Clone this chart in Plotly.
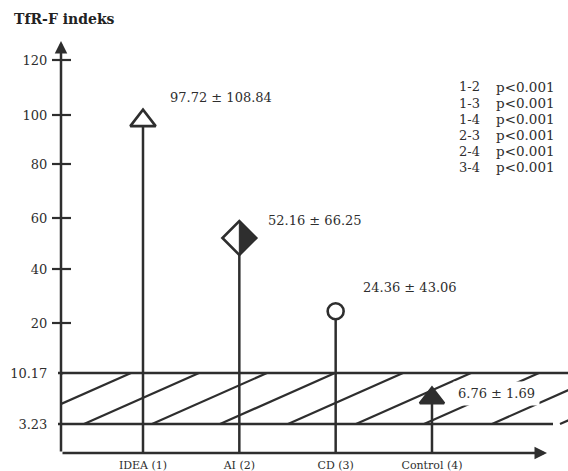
import numpy as np
import plotly.graph_objects as go

# ---------------- data ----------------
categories = ["IDEA (1)", "AI (2)", "CD (3)", "Control (4)"]
means = [97.72, 52.16, 24.36, 6.76]
sds = [108.84, 66.25, 43.06, 1.69]
ref_low = 3.23
ref_high = 10.17
ytick_values = [3.23, 10.17, 20, 40, 60, 80, 100, 120]
ytick_labels = ["3.23", "10.17", "20", "40", "60", "80", "100", "120"]
comparisons = ["1-2", "1-3", "1-4", "2-3", "2-4", "3-4"]
p_values = ["p<0.001", "p<0.001", "p<0.001", "p<0.001", "p<0.001", "p<0.001"]
y_title = "TfR-F indeks"

# ---------------- broken (non-linear) axis scale as drawn in the original ----------------
scale_values = [0, 3.23, 10.17, 20, 40, 60, 80, 100, 120]
scale_pos = [0, 29, 80, 130, 184, 235, 289, 338, 393]


def T(v):
    return np.interp(v, scale_values, scale_pos)


# ---------------- style ----------------
INK = "#2e2e2e"
FONT = "DejaVu Serif"
W, H = 568, 471
ML, MR, MT, MB = 61, 0, 40, 18
PX_PER_CAT = 96.33
X0_PIX = 143
xpos = list(range(len(categories)))


def xd(pix):
    return (pix - X0_PIX) / PX_PER_CAT


xr = [xd(ML), xd(W - MR)]
yr = [0, H - MT - MB]

symbols = ["triangle-up", "diamond", "circle", "triangle-up"]
fills = ["white", "white", "white", INK]
sizes = [22, 26, 16, 21]
label_dx = [22, 24, 22, 21]
label_dy = [23, 17, 24, 5]

fig = go.Figure()

# stems
sx, sy = [], []
for i, m in enumerate(means):
    sx += [xpos[i], xpos[i], None]
    sy += [0, T(m), None]
fig.add_trace(go.Scatter(x=sx, y=sy, mode="lines", line=dict(color=INK, width=2.5),
                         hoverinfo="skip", showlegend=False))

# markers
fig.add_trace(go.Scatter(
    x=xpos, y=[T(m) for m in means], mode="markers",
    marker=dict(symbol=symbols, size=sizes, color=fills, opacity=1, line=dict(color=INK, width=2.6)),
    text=categories, showlegend=False, cliponaxis=False))

shapes = []
# hatched reference band
y_lo, y_hi = T(ref_low), T(ref_high)
for k in range(-1, 10):
    xb = xd(16 + 68 * k)
    shapes.append(dict(type="line", xref="x", yref="y", x0=xb, y0=y_lo, x1=xb + 115 / PX_PER_CAT,
                       y1=y_hi, line=dict(color=INK, width=2.2), layer="below"))
# band boundaries
shapes.append(dict(type="line", xref="paper", yref="y", x0=-3 / 507, x1=1.0, y0=y_hi, y1=y_hi,
                   line=dict(color=INK, width=2.5)))
shapes.append(dict(type="line", xref="paper", yref="y", x0=-3 / 507, x1=(553 - ML) / 507, y0=y_lo, y1=y_lo,
                   line=dict(color=INK, width=2.5)))
# crossing tick marks
for v in ytick_values[2:]:
    shapes.append(dict(type="line", xref="paper", yref="y", x0=-9 / 507, x1=10 / 507, y0=T(v), y1=T(v),
                       line=dict(color=INK, width=2.2)))
# half-filled diamond (right half dark)
rd = sizes[1] / 2 * 1.3
shapes.append(dict(type="path", xref="x", yref="y", xsizemode="pixel", ysizemode="pixel",
                   xanchor=xpos[1], yanchor=T(means[1]),
                   path=f"M 0,{rd} L {rd},0 L 0,{-rd} Z", fillcolor=INK, line=dict(color=INK, width=1)))

annotations = []
# axes with arrows
annotations.append(dict(x=xr[0], y=yr[1] - 1, ax=xr[0], ay=0, xref="x", yref="y", axref="x", ayref="y",
                        showarrow=True, arrowhead=2, arrowsize=1, arrowwidth=2.5, arrowcolor=INK, text=""))
annotations.append(dict(x=xd(547), y=0, ax=xr[0], ay=0, xref="x", yref="y", axref="x", ayref="y",
                        showarrow=True, arrowhead=2, arrowsize=1, arrowwidth=2.5, arrowcolor=INK, text=""))
# value labels
for i, (m, s) in enumerate(zip(means, sds)):
    annotations.append(dict(x=xpos[i], y=T(m), xref="x", yref="y", text=f"{m:.2f} ± {s:.2f}",
                            showarrow=False, xanchor="left", yanchor="middle",
                            xshift=label_dx[i], yshift=label_dy[i],
                            bgcolor="white" if i == 3 else None, borderpad=4,
                            font=dict(family=FONT, size=13, color=INK)))
# title
annotations.append(dict(x=(12 - ML) / 507, y=(453 - 19) / 413, xref="paper", yref="paper",
                        text=f"<b>{y_title}</b>", showarrow=False, xanchor="left", yanchor="middle",
                        font=dict(family=FONT, size=14, color="#222")))
# p-values
for j, (c, p) in enumerate(zip(comparisons, p_values)):
    yy = (453 - (87 + 16 * j)) / 413
    annotations.append(dict(x=(457 - ML) / 507, y=yy, xref="paper", yref="paper", text=c, showarrow=False,
                            xanchor="left", yanchor="middle", font=dict(family=FONT, size=13, color=INK)))
    annotations.append(dict(x=(494 - ML) / 507, y=yy, xref="paper", yref="paper", text=p, showarrow=False,
                            xanchor="left", yanchor="middle", font=dict(family=FONT, size=13.5, color=INK)))

fig.update_layout(
    width=W, height=H, margin=dict(l=ML, r=MR, t=MT, b=MB),
    paper_bgcolor="white", plot_bgcolor="white", showlegend=False,
    shapes=shapes, annotations=annotations,
    xaxis=dict(range=xr, tickvals=xpos, ticktext=categories, showgrid=False, zeroline=False,
               showline=False, ticks="outside", ticklen=2, tickcolor="rgba(0,0,0,0)",
               tickfont=dict(family=FONT, size=11, color=INK)),
    yaxis=dict(range=yr, tickvals=[T(v) for v in ytick_values], ticktext=ytick_labels, showgrid=False,
               zeroline=False, showline=False, ticks="outside", ticklen=10, tickcolor="rgba(0,0,0,0)",
               tickfont=dict(family=FONT, size=13, color=INK)),
)

fig.write_html("out.html", config={"displayModeBar": False},
               post_script="document.body.style.margin='0';document.body.style.overflow='hidden';")
